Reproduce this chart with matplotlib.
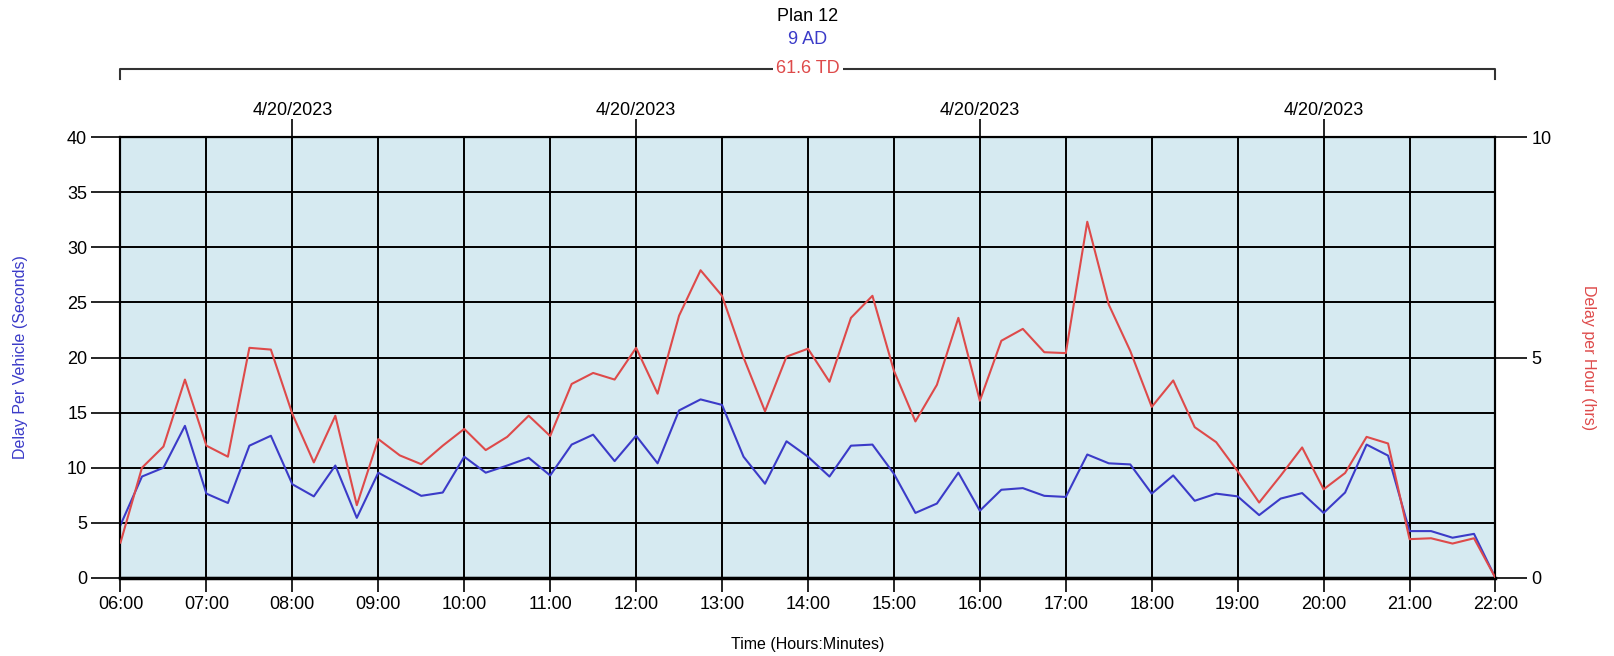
import matplotlib.pyplot as plt
import numpy as np

plt.rcParams['font.family'] = ['Liberation Sans', 'DejaVu Sans']

# time of day in hours, every 15 minutes from 06:00 to 22:00
hours = np.arange(6, 22.01, 0.25)
hour_ticks = np.arange(6, 23, 1)
hour_labels = ['%02d:00' % h for h in hour_ticks]
date_ticks = [8, 12, 16, 20]
date_labels = ['4/20/2023'] * 4

# Delay per vehicle (seconds), left axis
delay_per_vehicle = [
    4.8, 9.2, 10.0, 13.8,
    7.65, 6.8, 12.0, 12.9,
    8.5, 7.4, 10.2, 5.45,
    9.55, 8.5, 7.45, 7.75,
    11.0, 9.55, 10.2, 10.9,
    9.3, 12.1, 13.0, 10.6,
    12.9, 10.4, 15.2, 16.2,
    15.7, 11.0, 8.55, 12.4,
    11.0, 9.2, 12.0, 12.1,
    9.45, 5.9, 6.75, 9.55,
    6.1, 8.0, 8.15, 7.45,
    7.35, 11.2, 10.4, 10.3,
    7.65, 9.3, 7.0, 7.65,
    7.4, 5.7, 7.2, 7.7,
    5.9, 7.75, 12.1, 11.1,
    4.25, 4.25, 3.65, 4.0,
    0.0,
]

# Delay per hour (hrs), right axis
delay_per_hour = [
    0.80, 2.50, 2.98, 4.50,
    3.00, 2.75, 5.22, 5.18,
    3.72, 2.62, 3.68, 1.65,
    3.15, 2.78, 2.58, 3.00,
    3.38, 2.90, 3.20, 3.68,
    3.22, 4.40, 4.65, 4.50,
    5.22, 4.18, 5.95, 6.98,
    6.40, 5.00, 3.78, 5.02,
    5.20, 4.45, 5.90, 6.40,
    4.70, 3.55, 4.38, 5.90,
    4.02, 5.38, 5.65, 5.12,
    5.10, 8.08, 6.20, 5.15,
    3.88, 4.48, 3.42, 3.08,
    2.42, 1.71, 2.32, 2.96,
    2.01, 2.38, 3.20, 3.05,
    0.88, 0.90, 0.78, 0.90,
    0.0,
]

plan_name = 'Plan 12'
ad_text = '9 AD'
td_text = '61.6 TD'

blue = '#3b3bc8'
red = '#de4a4a'
fs = 13

fig = plt.figure(figsize=(16.15, 6.56), dpi=100)
ax = fig.add_axes([0.0746, 0.119, 0.8514, 0.672])
ax.set_facecolor('#d6eaf1')

ax.plot(hours, delay_per_vehicle, color=blue, lw=1.5, zorder=3)
ax.set_xlim(6, 22)
ax.set_ylim(0, 40)
ax.set_yticks(np.arange(0, 41, 5))
ax.set_xticks(hour_ticks)
ax.set_xticklabels(hour_labels)
ax.grid(True, color='black', lw=1.4)
ax.set_axisbelow(True)
ax.tick_params(axis='x', labelsize=fs, length=10, width=1.2, pad=3)
ax.tick_params(axis='y', labelsize=fs, length=21, width=1.2, pad=3)
for s in ax.spines.values():
    s.set_linewidth(1.5)
ax.spines['bottom'].set_linewidth(2.5)
ax.set_ylabel('Delay Per Vehicle (Seconds)', color=blue, fontsize=11.5, labelpad=28)
ax.set_xlabel('Time (Hours:Minutes)', fontsize=11.5, labelpad=17)

ax2 = ax.twinx()
ax2.plot(hours, delay_per_hour, color=red, lw=1.5, zorder=3)
ax2.set_ylim(0, 10)
ax2.set_yticks([0, 5, 10])
ax2.tick_params(axis='y', labelsize=fs, length=23, width=1.2, pad=3)
ax2.set_ylabel('Delay per Hour (hrs)', color=red, fontsize=11.5, rotation=270, labelpad=32)
for s in ax2.spines.values():
    s.set_linewidth(1.5)

top = ax.secondary_xaxis('top')
top.set_xticks(date_ticks)
top.set_xticklabels(date_labels)
top.tick_params(length=13, width=1.2, labelsize=fs, pad=0)

# bracket over the plot with the plan summary
ax.plot([6, 6, 22, 22], [45.3, 46.2, 46.2, 45.3], color='#333333', lw=1.5,
        clip_on=False)
ax.text(14, 46.2, td_text, color=red, fontsize=fs, ha='center', va='center',
        bbox=dict(facecolor='white', edgecolor='none', pad=2), clip_on=False)
ax.text(14, 48.85, ad_text, color=blue, fontsize=fs, ha='center', va='center')
ax.text(14, 50.9, plan_name, color='black', fontsize=fs, ha='center', va='center')

fig.savefig('out.png', dpi=100)
